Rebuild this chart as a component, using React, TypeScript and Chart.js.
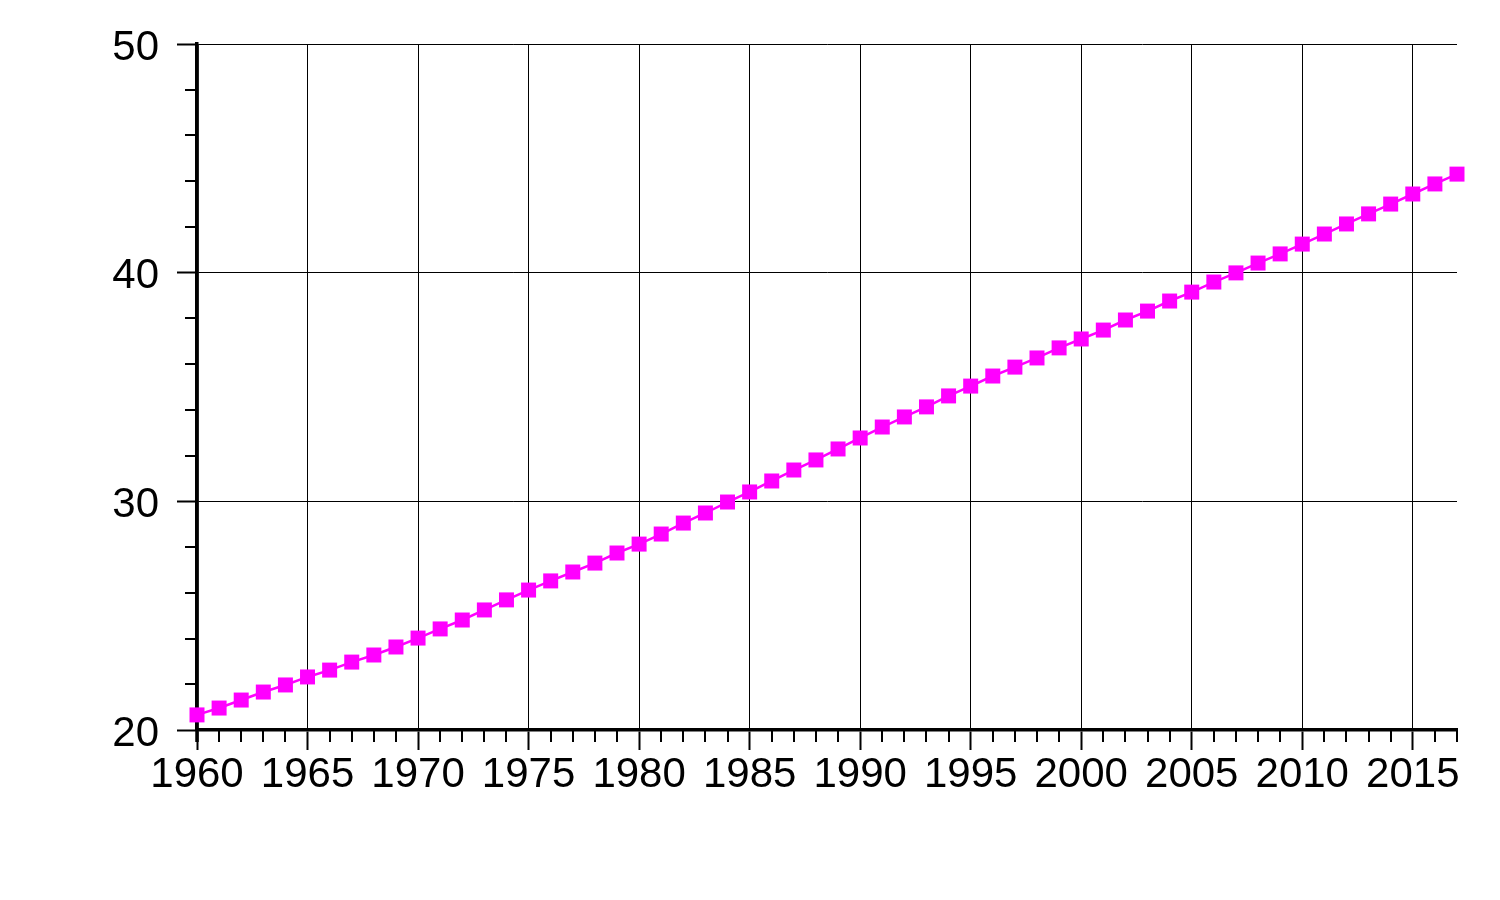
import React, { useEffect, useRef } from "react";
import { Chart, registerables } from "chart.js";

Chart.register(...registerables);

const years = [
  1960, 1961, 1962, 1963, 1964, 1965, 1966, 1967, 1968, 1969,
  1970, 1971, 1972, 1973, 1974, 1975, 1976, 1977, 1978, 1979,
  1980, 1981, 1982, 1983, 1984, 1985, 1986, 1987, 1988, 1989,
  1990, 1991, 1992, 1993, 1994, 1995, 1996, 1997, 1998, 1999,
  2000, 2001, 2002, 2003, 2004, 2005, 2006, 2007, 2008, 2009,
  2010, 2011, 2012, 2013, 2014, 2015, 2016, 2017,
];

const values = [
  20.66, 20.96, 21.31, 21.66, 21.97, 22.32, 22.62, 22.97, 23.28, 23.63,
  24.02, 24.42, 24.81, 25.25, 25.69, 26.12, 26.52, 26.91, 27.3, 27.74,
  28.13, 28.57, 29.05, 29.49, 29.97, 30.41, 30.89, 31.37, 31.81, 32.29,
  32.77, 33.25, 33.69, 34.13, 34.61, 35.04, 35.48, 35.87, 36.27, 36.71,
  37.1, 37.49, 37.93, 38.32, 38.76, 39.15, 39.59, 39.99, 40.42, 40.82,
  41.25, 41.69, 42.13, 42.57, 43.0, 43.44, 43.88, 44.31,
];

const xMinorTicks = years.filter((y) => y % 5 !== 0);
const yMinorTicks = [22, 24, 26, 28, 32, 34, 36, 38, 42, 44, 46, 48];

const minorTicksPlugin = {
  id: "minorTicks",
  beforeDatasetsDraw(chart: any) {
    const { ctx, scales, chartArea } = chart;
    const x = scales.x;
    const y = scales.y;
    ctx.save();
    ctx.strokeStyle = "#000";
    ctx.lineWidth = 2;
    for (const yr of xMinorTicks) {
      const px = Math.round(x.getPixelForValue(yr));
      ctx.beginPath();
      ctx.moveTo(px, chartArea.bottom);
      ctx.lineTo(px, chartArea.bottom + 12);
      ctx.stroke();
    }
    for (const v of yMinorTicks) {
      const py = Math.round(y.getPixelForValue(v));
      ctx.beginPath();
      ctx.moveTo(chartArea.left, py);
      ctx.lineTo(chartArea.left - 12, py);
      ctx.stroke();
    }
    // y axis continues slightly below the x axis
    ctx.lineWidth = 3.5;
    ctx.beginPath();
    ctx.moveTo(chartArea.left, chartArea.top);
    ctx.lineTo(chartArea.left, chartArea.bottom + 12);
    ctx.stroke();
    ctx.restore();
  },
};

export default function App() {
  const ref = useRef<HTMLCanvasElement>(null);

  useEffect(() => {
    if (!ref.current) return;
    const font = { family: "'Liberation Sans', Arial, sans-serif", size: 42 };
    const chart = new Chart(ref.current, {
      type: "line",
      data: {
        datasets: [
          {
            data: years.map((yr, i) => ({ x: yr, y: values[i] })),
            borderColor: "#ff00ff",
            backgroundColor: "#ff00ff",
            borderWidth: 2.5,
            pointStyle: "rect",
            pointRadius: 10.6,
            pointBorderWidth: 0,
            pointBackgroundColor: "#ff00ff",
            clip: false as any,
          },
        ],
      },
      options: {
        animation: false,
        responsive: false,
        maintainAspectRatio: false,
        layout: { padding: { top: 44, right: 43, left: 0, bottom: 0 } },
        plugins: { legend: { display: false }, tooltip: { enabled: false } },
        scales: {
          x: {
            type: "linear",
            min: 1960,
            max: 2017,
            afterFit: (s: any) => {
              s.height = 170;
            },
            border: { display: true, color: "#000", width: 3.5 },
            grid: {
              color: "#000",
              lineWidth: 1,
              drawTicks: true,
              tickLength: 20,
              tickWidth: 2,
              tickColor: "#000",
            },
            ticks: {
              stepSize: 5,
              includeBounds: false,
              autoSkip: false,
              maxRotation: 0,
              padding: 0,
              color: "#000",
              font,
              callback: (v: any) => String(v),
            },
          },
          y: {
            type: "linear",
            min: 20,
            max: 50,
            afterFit: (s: any) => {
              s.width = 197;
            },
            border: { display: true, color: "#000", width: 3.5 },
            grid: {
              color: "#000",
              lineWidth: 1,
              drawTicks: true,
              tickLength: 20,
              tickWidth: 2,
              tickColor: "#000",
            },
            ticks: {
              stepSize: 10,
              padding: 18,
              color: "#000",
              font,
              labelOffset: 4,
            },
          },
        },
      },
      plugins: [minorTicksPlugin],
    });
    return () => chart.destroy();
  }, []);

  return (
    <div style={{ position: "fixed", left: 0, top: 0, width: 1500, height: 900, background: "#fff" }}>
      <canvas ref={ref} width={1500} height={900} style={{ width: 1500, height: 900 }} />
    </div>
  );
}
